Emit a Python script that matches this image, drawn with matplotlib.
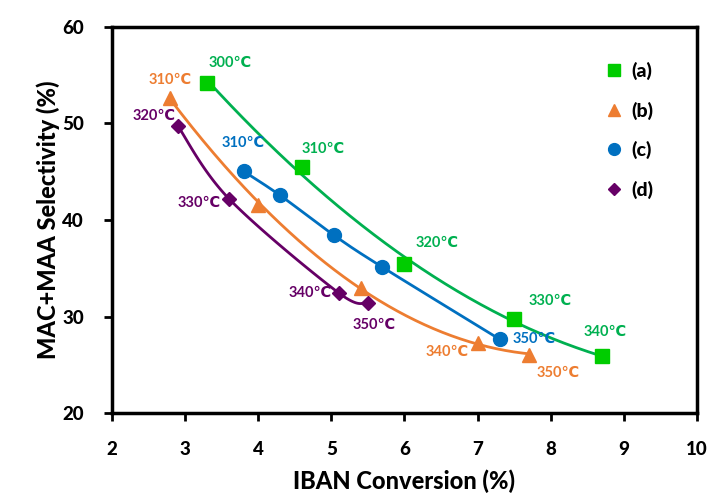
import numpy as np
import matplotlib
matplotlib.use("Agg")
import matplotlib.pyplot as plt

# ---- data ----
a_x = [3.3, 4.6, 6.0, 7.5, 8.7]
a_y = [54.2, 45.5, 35.4, 29.7, 25.9]
a_lab = ["300℃", "310℃", "320℃", "330℃", "340℃"]

b_x = [2.8, 4.0, 5.4, 7.0, 7.7]
b_y = [52.6, 41.6, 33.0, 27.3, 26.0]
b_lab = ["310℃", "", "", "340℃", "350℃"]

c_x = [3.8, 4.3, 5.03, 5.69, 7.3]
c_y = [45.05, 42.55, 38.45, 35.15, 27.65]
c_lab = ["310℃", "", "", "", "350℃"]

d_x = [2.9, 3.6, 5.1, 5.5]
d_y = [49.75, 42.2, 32.45, 31.45]
d_lab = ["320℃", "330℃", "340℃", "350℃"]

series_names = ["(a)", "(b)", "(c)", "(d)"]

# ---- style ----
marker_colors = ["#00CC00", "#ED7D31", "#0070C0", "#660066"]
line_colors = ["#00B050", "#ED7D31", "#0070C0", "#660066"]
markers = ["s", "^", "o", "D"]
msizes = [10, 10, 10, 7.5]
curve_kind = ["poly", "poly", "smooth", "smooth"]
label_offsets = [
    [(23, 20), (21, 18), (33, 21), (36, 18), (3, 24)],
    [(0, 18), None, None, (-30, -9), (29, -18)],
    [(0, 28), None, None, None, (35, 0)],
    [(-24, 10), (-30, -4), (-28, 0), (6, -22)],
]

FONT = "Lato"
HEAVY = 900
plt.rcParams["font.family"] = [FONT, "DejaVu Sans"]

fig = plt.figure(figsize=(7.1, 4.96), dpi=100)
ax = fig.add_axes([0.1577, 0.1673, 0.824, 0.7783])

XMIN, XMAX, YMIN, YMAX = 2, 10, 20, 60
ax.set_xlim(XMIN, XMAX)
ax.set_ylim(YMIN, YMAX)

W_PX, H_PX = 585.0, 386.0


def smooth(xs, ys, n=40):
    # Excel-like smoothed line (Catmull-Rom via cubic Bezier) in pixel-like space
    px = (np.asarray(xs) - XMIN) / (XMAX - XMIN) * W_PX
    py = (np.asarray(ys) - YMIN) / (YMAX - YMIN) * H_PX
    P = np.column_stack([px, py])
    m = len(P)
    out = []
    for i in range(m - 1):
        p0 = P[i - 1] if i > 0 else P[i]
        p1 = P[i]
        p2 = P[i + 1]
        p3 = P[i + 2] if i + 2 < m else P[i + 1]
        c1 = p1 + (p2 - p0) / 6.0
        c2 = p2 - (p3 - p1) / 6.0
        t = np.linspace(0, 1, n)[:, None]
        seg = ((1 - t) ** 3) * p1 + 3 * ((1 - t) ** 2) * t * c1 + 3 * (1 - t) * t ** 2 * c2 + t ** 3 * p2
        out.append(seg if i == 0 else seg[1:])
    S = np.vstack(out)
    sx = S[:, 0] / W_PX * (XMAX - XMIN) + XMIN
    sy = S[:, 1] / H_PX * (YMAX - YMIN) + YMIN
    return sx, sy


def trend(xs, ys, n=200):
    # quadratic trendline over the data range
    c = np.polyfit(xs, ys, 2)
    sx = np.linspace(min(xs), max(xs), n)
    return sx, np.polyval(c, sx)


all_x = [a_x, b_x, c_x, d_x]
all_y = [a_y, b_y, c_y, d_y]
all_lab = [a_lab, b_lab, c_lab, d_lab]

for k in range(4):
    if curve_kind[k] == "poly":
        sx, sy = trend(all_x[k], all_y[k])
    else:
        sx, sy = smooth(all_x[k], all_y[k])
    ax.plot(sx, sy, color=line_colors[k], lw=2.0, zorder=2)
    ax.plot(all_x[k], all_y[k], linestyle="none", marker=markers[k],
            ms=msizes[k], color=marker_colors[k], mec=marker_colors[k],
            label=series_names[k], zorder=3)
    for j, lab in enumerate(all_lab[k]):
        if lab and label_offsets[k][j] is not None:
            ax.annotate(lab, (all_x[k][j], all_y[k][j]),
                        xytext=label_offsets[k][j], textcoords="offset pixels",
                        ha="center", va="center", color=line_colors[k],
                        fontsize=10.5, fontweight="bold", zorder=4)

ax.set_xticks(range(2, 11))
ax.set_yticks(range(20, 61, 10))
ax.tick_params(axis="both", direction="out", length=6, width=2.0,
               labelsize=13.5)
ax.tick_params(axis="x", pad=14)
ax.tick_params(axis="y", pad=14)
for lbl in ax.get_xticklabels() + ax.get_yticklabels():
    lbl.set_fontweight(HEAVY)
for sp in ax.spines.values():
    sp.set_linewidth(2.5)
    sp.set_color("black")

ax.set_xlabel("IBAN Conversion (%)", fontsize=17, fontweight=HEAVY, labelpad=8)
ax.set_ylabel("MAC+MAA Selectivity (%)", fontsize=17, fontweight=HEAVY, labelpad=2)

leg = ax.legend(loc="upper right", bbox_to_anchor=(0.955, 0.955), frameon=False,
                prop={"family": FONT, "weight": HEAVY, "size": 14},
                handlelength=1.0, handletextpad=0.4, labelspacing=1.1,
                markerscale=0.85)

fig.savefig("out.png", dpi=100)
